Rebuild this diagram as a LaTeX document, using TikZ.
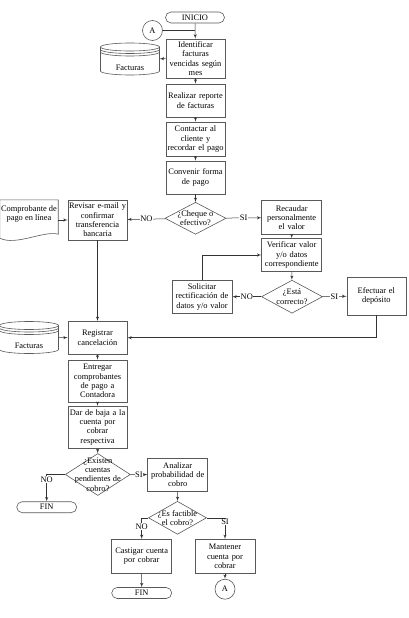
\documentclass[tikz,border=0pt]{standalone}
\usepackage{fontspec}
\setmainfont{Liberation Serif}
\usepackage{tikz}
\usetikzlibrary{arrows,shapes.geometric,shapes.misc}

\begin{document}
\begin{tikzpicture}[x=1pt,y=-1pt,font=\fontsize{8.4}{9.3}\selectfont]

\tikzset{proceso/.style = {shape=rectangle,draw=black!65,line width=0.6pt,text width=58pt,minimum width=59pt,minimum height=33pt,align=center,inner sep=0.5pt}}
\tikzset{decision/.style = {shape=diamond,draw=black!65,line width=0.6pt,align=center,inner sep=-40pt}}
\tikzset{terminal/.style = {shape=rounded rectangle,draw=black!65,line width=0.6pt,minimum width=59pt,minimum height=11pt,inner sep=0pt}}
\tikzset{conector/.style = {shape=circle,draw=black!65,line width=0.6pt,minimum size=20pt,inner sep=0pt}}
\tikzset{borde/.style = {draw=black!65,line width=0.6pt}}
\tikzset{linea/.style = {draw=black!80,line width=0.5pt}}
\tikzset{edge/.style = {linea,->,> = latex'}}
\tikzset{etiqueta/.style = {fill=white,inner sep=0.6pt}}

\useasboundingbox (0,0) rectangle (408,618);

% vertices
\node[terminal] (ini) at (195,17.5) {INICIO};
\node[conector] (a1) at (152.5,30.5) {A};
\node[proceso,minimum height=39pt] (ident) at (195.5,58.5) {Identificar\\facturas\\vencidas según\\mes};
\node[proceso] (reporte) at (195.5,100.5) {Realizar reporte\\de facturas};
\node[proceso,minimum height=34pt] (contactar) at (195.5,139) {Contactar al\\cliente y\\recordar el pago};
\node[proceso] (convenir) at (195.5,177.5) {Convenir forma\\de pago};
\node[decision,minimum width=61pt,minimum height=32pt] (cheque) at (195.5,218.3) {¿Cheque o\\efectivo?};
\node[proceso,minimum height=40pt] (revisar) at (97.5,220) {Revisar e-mail y\\confirmar\\transferencia\\bancaria};
\node[proceso,minimum width=60pt,minimum height=34pt] (recaudar) at (291.7,217.5) {Recaudar\\personalmente\\el valor};
\node[proceso,minimum width=60pt] (verificar) at (291.7,255) {Verificar valor\\y/o datos\\correspondiente};
\node[decision,minimum width=61pt,minimum height=33pt] (correcto) at (292,296.7) {¿Está\\correcto?};
\node[proceso,minimum width=60pt] (solicitar) at (202,296.7) {Solicitar\\rectificación de\\datos y/o valor};
\node[proceso,minimum height=38pt] (efectuar) at (376.3,296) {Efectuar el\\depósito};
\node[proceso] (registrar) at (97.5,337.7) {Registrar\\cancelación};
\node[proceso,minimum height=42pt] (entregar) at (97.5,381) {Entregar\\comprobantes\\de pago a\\Contadora};
\node[proceso,minimum height=42.5pt] (baja) at (97.5,427.3) {Dar de baja a la\\cuenta por\\cobrar\\respectiva};
\node[decision,minimum width=65pt,minimum height=42pt] (existen) at (97.8,474.5) {¿Existen\\cuentas\\pendientes de\\cobro?};
\node[terminal,minimum width=60pt] (fin1) at (46.7,507.2) {FIN};
\node[proceso,minimum width=60pt] (analizar) at (177.7,474.7) {Analizar\\probabilidad de\\cobro};
\node[decision,minimum width=58pt,minimum height=33pt] (factible) at (177.5,517.8) {¿Es factible\\el cobro?};
\node[proceso,minimum width=60pt,minimum height=34pt] (castigar) at (141.7,556.3) {Castigar cuenta\\por cobrar};
\node[proceso,minimum width=60pt,minimum height=34pt] (mantener) at (225,556.3) {Mantener\\cuenta por\\cobrar};
\node[terminal,minimum width=60pt] (fin2) at (141.7,593) {FIN};
\node[conector] (a2) at (225,589.2) {A};

% documento y bases de datos
\node[minimum width=58pt,minimum height=40pt,inner sep=0pt,align=center] (comp) at (29,220) {Comprobante de\\pago en línea\\[5pt]};
\draw[borde] (comp.north west) -- (comp.north east) -- ([yshift=6pt]comp.south east)
  .. controls ([xshift=-14pt,yshift=10pt]comp.south east) and ([xshift=16pt,yshift=-6pt]comp.south west) .. ([yshift=2pt]comp.south west) -- cycle;
\foreach \n/\x/\y in {fact1/130/59,fact2/29/337.5}{
  \node[minimum width=59pt,minimum height=32pt,inner sep=0pt] (\n) at (\x,\y) {};
  \node (\n-t) at (\x,\y+8.5) {Facturas};
  \draw[borde] (\x-29.5,\y-12) -- (\x-29.5,\y+12) arc[start angle=180,end angle=360,x radius=29.5pt,y radius=4pt] -- (\x+29.5,\y-12);
  \draw[borde] (\x,\y-12) ellipse[x radius=29.5pt,y radius=4pt];
  \foreach \k in {2.5,5}
    \draw[borde] (\x-29.5,\y-12+\k) arc[start angle=180,end angle=360,x radius=29.5pt,y radius=4pt];
}

%edges
\draw[edge] (ini) to (ident);
\draw[linea] (a1) to (a1 -| ini);
\draw[edge] (ident) to (fact1);
\draw[edge] (ident) to (reporte);
\draw[edge] (reporte) to (contactar);
\draw[edge] (contactar) to (convenir);
\draw[edge] (convenir) to (cheque);
\draw[edge] (cheque) to node[etiqueta] {NO} (revisar);
\draw[edge] (cheque) to node[etiqueta] {SI} (recaudar);
\draw[edge] (comp) to (revisar);
\draw[edge] (recaudar) to (verificar);
\draw[edge] (verificar) to (correcto);
\draw[edge] (correcto) to node[etiqueta] {NO} (solicitar);
\draw[edge] (correcto) to node[etiqueta] {SI} (efectuar);
\draw[edge] (solicitar) |- (verificar);
\draw[edge] (efectuar) |- (registrar);
\draw[edge] (revisar) to (registrar);
\draw[edge] (fact2) to (registrar);
\draw[edge] (registrar) to (entregar);
\draw[edge] (entregar) to (baja);
\draw[edge] (baja) to (existen);
\draw[edge] (existen) -| node[etiqueta,pos=0.59] {NO} (fin1);
\draw[edge] (existen) to node[etiqueta] {SI} (analizar);
\draw[edge] (analizar) to (factible);
\draw[edge] (factible) -| node[etiqueta,pos=0.7] {NO} (castigar);
\draw[edge] (factible) -| node[etiqueta,pos=0.6] {SI} (mantener);
\draw[edge] (castigar) to (fin2);
\draw[edge] (mantener) to (a2);
\end{tikzpicture}
\end{document}
